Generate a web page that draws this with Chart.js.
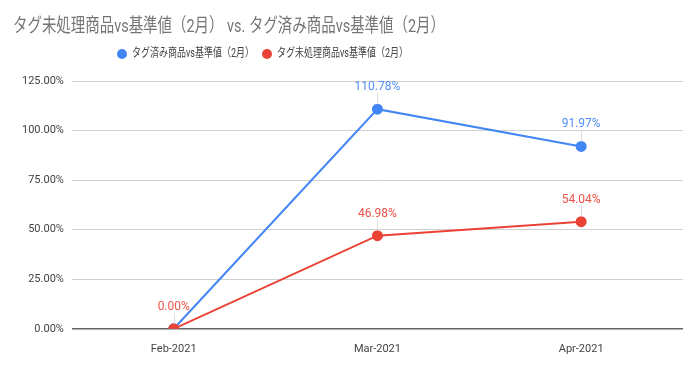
<!DOCTYPE html>
<html>
<head>
<meta charset="utf-8">
<script src="https://cdn.jsdelivr.net/npm/chart.js@4"></script>
<style>
  html, body { margin: 0; padding: 0; background: #fff; }
  #wrap { width: 700px; height: 365px; }
</style>
</head>
<body>
<div id="wrap"><canvas id="lineChart"></canvas></div>
<script>
const months = ['Feb-2021', 'Mar-2021', 'Apr-2021'];
const taggedValues = [0, 110.78, 91.97];
const untaggedValues = [0, 46.98, 54.04];
const taggedLabels = [null, '110.78%', '91.97%'];
const untaggedLabels = ['0.00%', '46.98%', '54.04%'];
const yTicks = [0, 25, 50, 75, 100, 125];

const chartTitle = 'タグ未処理商品vs基準値（2月） vs. タグ済み商品vs基準値（2月）';
const FONT = "Roboto, 'Noto Sans CJK JP', sans-serif";

// text drawn slightly condensed, like the narrow CJK face of the original
function drawCondensed(ctx, text, x, y, squeeze) {
    ctx.save();
    ctx.translate(x, y);
    ctx.scale(squeeze, 1);
    ctx.fillText(text, 0, 0);
    ctx.restore();
}

// title + legend drawn by hand so the spacing matches the original
const header = {
    id: 'header',
    afterDraw(chart) {
        const ctx = chart.ctx;
        ctx.save();
        ctx.textBaseline = 'middle';
        ctx.textAlign = 'left';

        ctx.font = '19px ' + FONT;
        ctx.fillStyle = '#757575';
        drawCondensed(ctx, chartTitle, 13, 27, 432 / ctx.measureText(chartTitle).width);

        ctx.font = '12px ' + FONT;
        const legendX = [122, 267];
        chart.data.datasets.forEach((ds, i) => {
            ctx.fillStyle = ds.borderColor;
            ctx.beginPath();
            ctx.arc(legendX[i], 54, 5, 0, Math.PI * 2);
            ctx.fill();
            ctx.fillStyle = '#444';
            drawCondensed(ctx, ds.label, legendX[i] + 10, 54, 0.75);
        });
        ctx.restore();
    }
};

// value labels above points with a small leader line
const pointLabels = {
    id: 'pointLabels',
    afterDatasetsDraw(chart) {
        const ctx = chart.ctx;
        ctx.save();
        ctx.font = '12px ' + FONT;
        ctx.textAlign = 'center';
        ctx.textBaseline = 'bottom';
        chart.data.datasets.forEach((ds, i) => {
            const meta = chart.getDatasetMeta(i);
            meta.data.forEach((pt, j) => {
                const txt = ds.valueLabels[j];
                if (!txt) return;
                ctx.strokeStyle = '#dddddd';
                ctx.lineWidth = 1;
                ctx.beginPath();
                ctx.moveTo(Math.round(pt.x) + 0.5, pt.y - 5);
                ctx.lineTo(Math.round(pt.x) + 0.5, pt.y - 16);
                ctx.stroke();
                ctx.fillStyle = ds.labelColor;
                ctx.fillText(txt, pt.x, pt.y - 16);
            });
        });
        ctx.restore();
    }
};

new Chart(document.getElementById('lineChart'), {
    type: 'line',
    data: {
        labels: months,
        datasets: [{
            label: 'タグ済み商品vs基準値（2月）',
            data: taggedValues,
            valueLabels: taggedLabels,
            labelColor: '#5290f5',
            borderColor: '#4285f4',
            backgroundColor: '#4285f4',
            borderWidth: 2,
            pointRadius: 4.5,
            pointHoverRadius: 4.5,
            tension: 0,
            order: 1
        }, {
            label: 'タグ未処理商品vs基準値（2月）',
            data: untaggedValues,
            valueLabels: untaggedLabels,
            labelColor: '#ec5247',
            borderColor: '#ea4335',
            backgroundColor: '#ea4335',
            borderWidth: 2,
            pointRadius: 4.5,
            pointHoverRadius: 4.5,
            tension: 0,
            order: 0
        }]
    },
    options: {
        responsive: true,
        maintainAspectRatio: false,
        animation: false,
        layout: {
            padding: { left: 14, right: 17, top: 81, bottom: 3 }
        },
        scales: {
            x: {
                offset: true,
                grid: { display: false },
                border: { display: false },
                ticks: { color: '#444', font: { family: FONT, size: 11 }, padding: 6 }
            },
            y: {
                min: 0,
                max: 125,
                afterBuildTicks(axis) {
                    axis.ticks = yTicks.map(v => ({ value: v }));
                },
                border: { display: false },
                grid: {
                    color: ctx => ctx.tick && ctx.tick.value === 0 ? '#666' : '#d0d0d0',
                    lineWidth: ctx => ctx.tick && ctx.tick.value === 0 ? 1.5 : 1,
                    drawTicks: false
                },
                ticks: {
                    color: '#444',
                    font: { family: FONT, size: 11 },
                    padding: 8,
                    callback: v => v.toFixed(2) + '%'
                }
            }
        },
        plugins: {
            title: { display: false },
            legend: { display: false },
            tooltip: { enabled: false }
        }
    },
    plugins: [header, pointLabels]
});
</script>
</body>
</html>
